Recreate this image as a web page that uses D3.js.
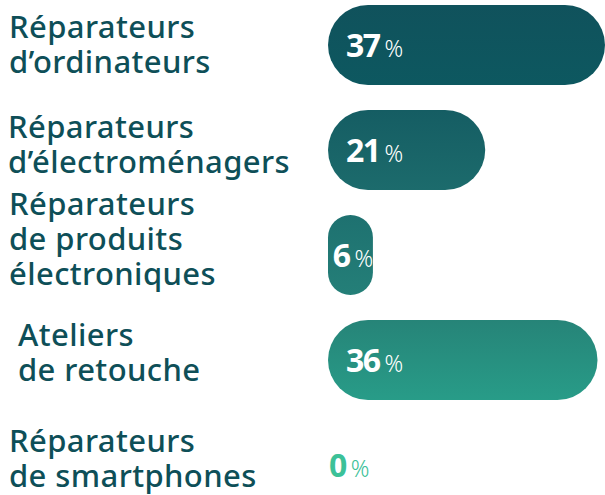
<!DOCTYPE html>
<html>
<head>
<meta charset="utf-8">
<script src="https://cdn.jsdelivr.net/npm/d3@7"></script>
<style>
  html, body { margin: 0; padding: 0; background: #fff; }
  svg { display: block; }
</style>
</head>
<body>
<div id="chart"></div>
<script>
// data
const categories = [
    ['Réparateurs', 'd’ordinateurs'],
    ['Réparateurs', 'd’électroménagers'],
    ['Réparateurs', 'de produits', 'électroniques'],
    ['Ateliers', 'de retouche'],
    ['Réparateurs', 'de smartphones']
];
const values = [37, 21, 6, 36, 0];

// style (top / bottom colour of each bar)
const barColors = [
    ['#10525c', '#0d5860'],
    ['#155d63', '#1c6b6c'],
    ['#1e7170', '#247f78'],
    ['#268478', '#289c88'],
    ['#33b592', '#3cc198']
];
// small hand nudges of the labels [dx, dy]
const labelShift = [[0, 0], [-1, -5], [0, -15], [9, -7], [0, -6]];

let width = 605,
    height = 495,
    textColor = '#0e4f58',
    lineHeight = 35;

let svg = d3.select('#chart')
    .append('svg')
    .attr('width', width)
    .attr('height', height);

let scaleX = d3.scaleLinear()
    .domain([0, d3.max(values)])
    .range([328, 605]);

let scaleY = d3.scaleBand()
    .domain(d3.range(values.length))
    .range([5, 505])
    .paddingInner(25 / 105)
    .paddingOuter(0);

// gradients
let defs = svg.append('defs');
barColors.forEach(function(c, i) {
    let g = defs.append('linearGradient')
        .attr('id', 'grad' + i)
        .attr('x1', 0).attr('x2', 0)
        .attr('y1', 0).attr('y2', 1);
    g.append('stop').attr('offset', 0).attr('stop-color', c[0]);
    g.append('stop').attr('offset', 1).attr('stop-color', c[1]);
});

// bars
svg.append('g')
    .selectAll('rect')
    .data(values)
    .enter()
    .append('rect')
    .attr('x', scaleX(0))
    .attr('y', function(d, i) { return scaleY(i); })
    .attr('width', function(d) { return scaleX(d) - scaleX(0); })
    .attr('height', scaleY.bandwidth())
    .attr('rx', function(d) { return Math.min(scaleX(d) - scaleX(0), scaleY.bandwidth()) / 2; })
    .attr('ry', function(d) { return Math.min(scaleX(d) - scaleX(0), scaleY.bandwidth()) / 2; })
    .attr('fill', function(d, i) { return 'url(#grad' + i + ')'; });

// category labels
let labels = svg.append('g')
    .attr('font-family', '"Noto Sans", sans-serif')
    .attr('font-weight', 500)
    .attr('font-size', 31)
    .attr('letter-spacing', 0.4)
    .attr('fill', textColor);

categories.forEach(function(lines, i) {
    let cy = scaleY(i) + scaleY.bandwidth() / 2 + labelShift[i][1];
    let first = cy + 10 - (lines.length - 1) * lineHeight / 2;
    let t = labels.append('text')
        .attr('x', 9 + labelShift[i][0])
        .attr('y', first);
    lines.forEach(function(line, k) {
        t.append('tspan')
            .attr('x', 9 + labelShift[i][0])
            .attr('y', first + k * lineHeight)
            .text(line);
    });
});

// value labels
let valueLabels = svg.append('g')
    .attr('font-family', '"Noto Sans", sans-serif');

values.forEach(function(d, i) {
    let w = scaleX(d) - scaleX(0),
        cy = scaleY(i) + scaleY.bandwidth() / 2,
        color = d > 0 ? '#fff' : barColors[i][1];
    let t = valueLabels.append('text')
        .attr('y', cy + 12)
        .attr('fill', color);
    t.append('tspan')
        .attr('font-size', 32)
        .attr('font-weight', 700)
        .attr('letter-spacing', -1.5)
        .text(d);
    t.append('tspan')
        .attr('dx', 5)
        .attr('font-size', 23)
        .attr('font-weight', 300)
        .attr('letter-spacing', 0)
        .text('%');
    let tw = t.node().getComputedTextLength();
    let pad = w > 0 ? Math.max(2, Math.min(18, (w - tw) / 2)) : 1;
    t.attr('x', scaleX(0) + pad);
});
</script>
</body>
</html>
